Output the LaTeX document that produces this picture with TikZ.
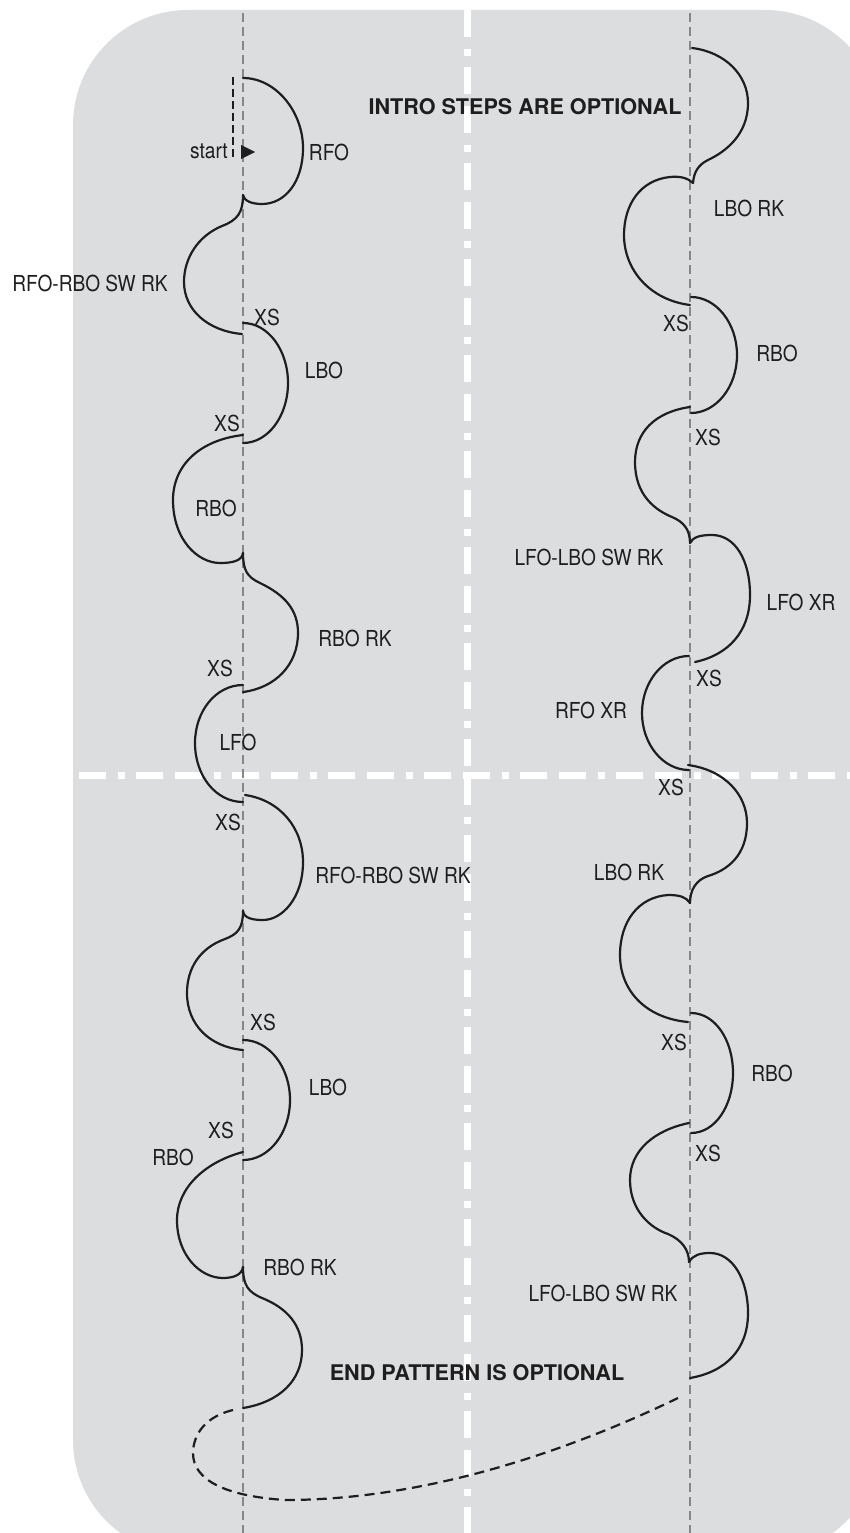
\documentclass[tikz,border=0pt]{standalone}
\usepackage{fontspec}
\setmainfont{TeX Gyre Heros}
\newfontfamily\cnd{TeX Gyre Heros}[FakeStretch=0.87]
\definecolor{bg}{RGB}{220,221,223}
\definecolor{guide}{RGB}{135,135,137}
\definecolor{ink}{RGB}{30,30,30}
\tikzset{
  skate/.style={draw=ink, line width=2.2pt, line cap=round},
  guideline/.style={draw=guide, line width=2.7pt, dash pattern=on 9pt off 5pt},
  floorline/.style={draw=white, line width=7pt, dash pattern=on 27pt off 12pt on 7pt off 11pt on 27pt off 12pt},
  lbl/.style={font=\cnd\fontsize{22}{24}\selectfont, text=ink, inner sep=0pt},
  note/.style={font=\bfseries\fontsize{21.6}{24}\selectfont, text=ink, inner sep=0pt},
  optpath/.style={draw=ink, line width=2.2pt, dash pattern=on 10pt off 6pt},
  startline/.style={draw=ink, line width=2.2pt, dash pattern=on 8pt off 4pt},
}
\begin{document}
\begin{tikzpicture}[x=1pt,y=-1pt]
\useasboundingbox (0,0) rectangle (850,1533);
\clip (0,0) rectangle (850,1533);
% background panel
\fill[bg, rounded corners=115pt] (73,10) rectangle (880,1555);
% floor dividers
\draw[floorline] (467,10) -- (467,1533);
\draw[floorline] (79,775) -- (850,775);
% long-axis guide lines
\draw[guideline] (243,13) -- (243,1533);
\draw[guideline] (690,13) -- (690,1533);

% start marker
\draw[startline] (233,77) -- (233,160);
\fill[ink] (241,145) -- (255,152) -- (241,159) -- cycle;
\node[lbl, anchor=east] (start) at (228,151) {start};

% ---------- left column ----------
\draw[skate] (243,78) .. controls (276,78) and (303,112) .. (303,148)
  .. controls (303,182) and (285,204) .. (262,204)
  .. controls (252,204) and (244,201) .. (243,195);
\draw[skate] (243,195) .. controls (243,212) and (238,220) .. (222,226)
  .. controls (198,236) and (184,258) .. (184,282)
  .. controls (184,310) and (208,331) .. (242,334);
\draw[skate] (243,323) .. controls (268,323) and (288,350) .. (288,383)
  .. controls (288,416) and (268,443) .. (243,443);
\draw[skate] (243,435) .. controls (200,440) and (173,465) .. (173,500)
  .. controls (173,540) and (198,563) .. (220,563)
  .. controls (232,563) and (242,561) .. (243,553);
\draw[skate] (243,553) .. controls (243,570) and (247,577) .. (260,583)
  .. controls (285,595) and (298,610) .. (298,633)
  .. controls (298,665) and (275,688) .. (243,692);
\draw[skate] (243,685) .. controls (216,685) and (195,711) .. (195,743)
  .. controls (195,776) and (216,802) .. (243,802);
\draw[skate] (245,795) .. controls (280,800) and (303,828) .. (303,862)
  .. controls (303,898) and (282,920) .. (263,920)
  .. controls (252,920) and (244,918) .. (243,911);
\draw[skate] (243,911) .. controls (243,928) and (238,934) .. (225,939)
  .. controls (200,948) and (187,968) .. (187,993)
  .. controls (187,1025) and (210,1047) .. (243,1050);
\draw[skate] (243,1040) .. controls (269,1040) and (290,1067) .. (290,1100)
  .. controls (290,1133) and (269,1160) .. (243,1160);
\draw[skate] (243,1152) .. controls (205,1162) and (177,1188) .. (177,1220)
  .. controls (177,1255) and (200,1278) .. (223,1278)
  .. controls (233,1278) and (242,1275) .. (243,1267);
\draw[skate] (243,1267) .. controls (243,1285) and (248,1292) .. (262,1298)
  .. controls (287,1308) and (302,1325) .. (302,1350)
  .. controls (302,1380) and (280,1402) .. (243,1408);

% ---------- right column ----------
\draw[skate] (692,48) .. controls (725,52) and (748,75) .. (748,103)
  .. controls (748,135) and (725,152) .. (708,160)
  .. controls (698,165) and (694,172) .. (693,183);
\draw[skate] (693,183) .. controls (688,178) and (680,176) .. (670,177)
  .. controls (640,180) and (624,205) .. (624,235)
  .. controls (624,270) and (650,300) .. (690,305);
\draw[skate] (691,297) .. controls (716,297) and (737,323) .. (737,355)
  .. controls (737,387) and (716,413) .. (691,413);
\draw[skate] (690,407) .. controls (655,412) and (635,432) .. (635,462)
  .. controls (635,495) and (655,510) .. (672,517)
  .. controls (684,522) and (690,530) .. (690,543);
\draw[skate] (690,543) .. controls (693,537) and (700,535) .. (712,535)
  .. controls (735,535) and (750,560) .. (750,595)
  .. controls (750,632) and (728,655) .. (695,662);
\draw[skate] (689,656) .. controls (663,656) and (642,682) .. (642,713)
  .. controls (642,744) and (663,770) .. (689,770);
\draw[skate] (688,765) .. controls (725,770) and (747,795) .. (747,823)
  .. controls (747,855) and (728,870) .. (708,876)
  .. controls (696,880) and (690,890) .. (690,903);
\draw[skate] (690,903) .. controls (686,897) and (680,895) .. (668,895)
  .. controls (638,897) and (620,922) .. (620,955)
  .. controls (620,990) and (645,1018) .. (688,1022);
\draw[skate] (691,1013) .. controls (715,1013) and (733,1040) .. (733,1073)
  .. controls (733,1106) and (715,1133) .. (691,1133);
\draw[skate] (689,1123) .. controls (655,1130) and (630,1150) .. (630,1180)
  .. controls (630,1210) and (650,1228) .. (668,1234)
  .. controls (682,1240) and (689,1250) .. (689,1262);
\draw[skate] (689,1262) .. controls (693,1255) and (700,1253) .. (710,1253)
  .. controls (733,1253) and (748,1280) .. (748,1313)
  .. controls (748,1350) and (725,1372) .. (690,1378);

% optional end pattern
\draw[optpath] (233,1410) .. controls (200,1418) and (193,1440) .. (193,1453)
  .. controls (193,1480) and (225,1496) .. (285,1500)
  .. controls (420,1500) and (560,1455) .. (678,1398);

% ---------- labels ----------
\node[note] (intro) at (525,107) {INTRO STEPS ARE OPTIONAL};
\node[note] (endp) at (477,1373) {END PATTERN IS OPTIONAL};

\node[lbl] (l1) at (329,152) {RFO};
\node[lbl] (l2) at (90,283) {RFO-RBO SW RK};
\node[lbl] (l3) at (267,317) {XS};
\node[lbl] (l4) at (324,370) {LBO};
\node[lbl] (l5) at (227,423) {XS};
\node[lbl] (l6) at (216,508) {RBO};
\node[lbl] (l7) at (355,638) {RBO RK};
\node[lbl] (l8) at (220,668) {XS};
\node[lbl] (l9) at (238,742) {LFO};
\node[lbl] (l10) at (228,822) {XS};
\node[lbl] (l11) at (393,875) {RFO-RBO SW RK};
\node[lbl] (l12) at (263,1022) {XS};
\node[lbl] (l13) at (328,1087) {LBO};
\node[lbl] (l14) at (221,1130) {XS};
\node[lbl] (l15) at (173,1157) {RBO};
\node[lbl] (l16) at (300,1267) {RBO RK};

\node[lbl] (r1) at (749,208) {LBO RK};
\node[lbl] (r2) at (676,323) {XS};
\node[lbl] (r3) at (777,353) {RBO};
\node[lbl] (r4) at (708,437) {XS};
\node[lbl] (r5) at (589,557) {LFO-LBO SW RK};
\node[lbl] (r6) at (801,602) {LFO XR};
\node[lbl] (r7) at (709,678) {XS};
\node[lbl] (r8) at (591,710) {RFO XR};
\node[lbl] (r9) at (671,787) {XS};
\node[lbl] (r10) at (629,872) {LBO RK};
\node[lbl] (r11) at (674,1042) {XS};
\node[lbl] (r12) at (772,1073) {RBO};
\node[lbl] (r13) at (708,1153) {XS};
\node[lbl] (r14) at (603,1293) {LFO-LBO SW RK};
\end{tikzpicture}
\end{document}
